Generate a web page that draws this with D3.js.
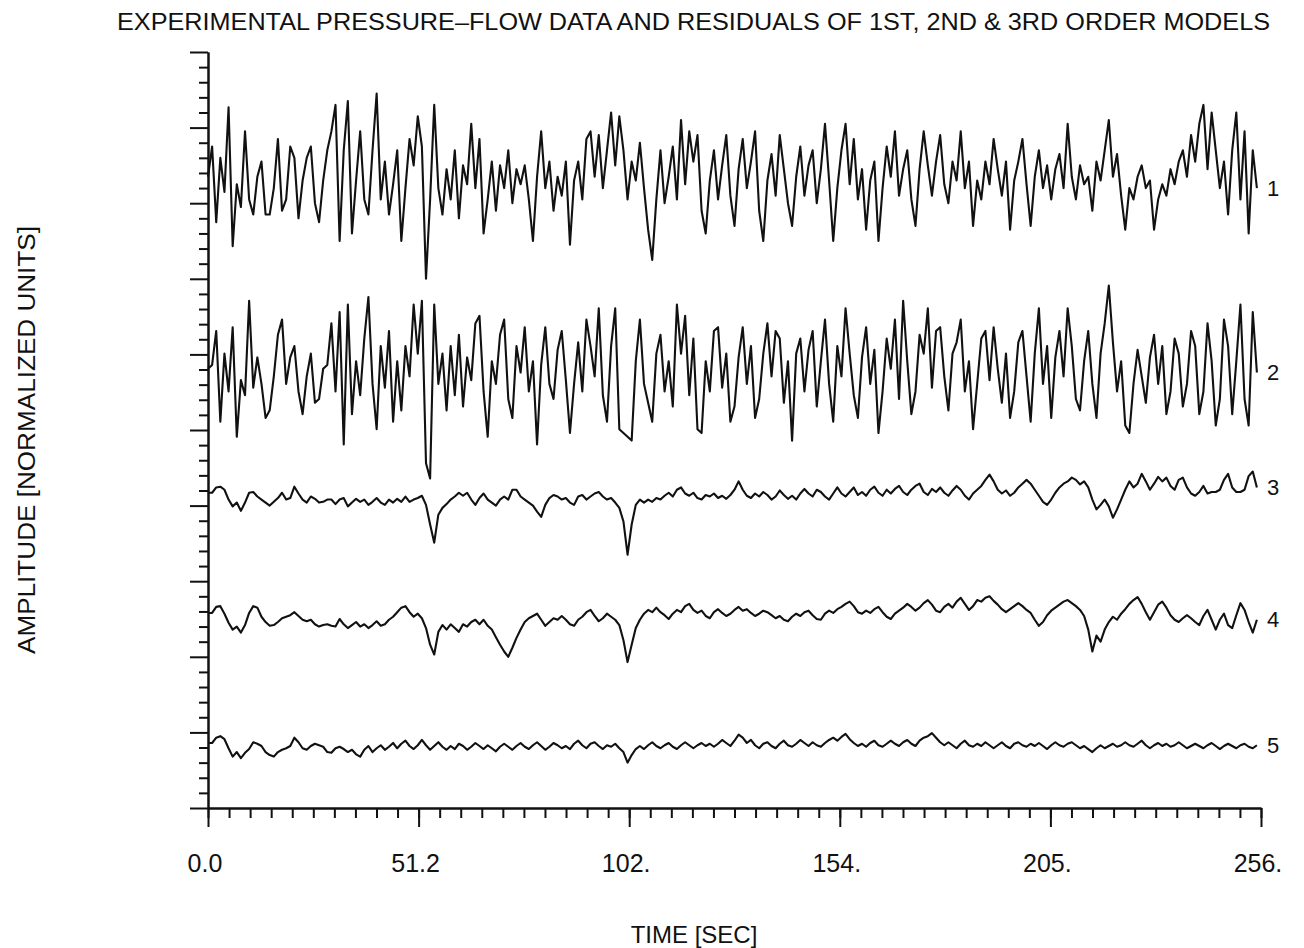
<!DOCTYPE html>
<html>
<head>
<meta charset="utf-8">
<script src="https://cdn.jsdelivr.net/npm/d3@7"></script>
<style>
  body { margin: 0; background: #fff; }
  svg { display: block; }
  text { font-family: "Liberation Sans", Arial, sans-serif; fill: #111; }
</style>
</head>
<body>
<div id="container"></div>
<script>
// Tick labels on the time axis (seconds)
var xTickValues = [0, 51.2, 102.4, 153.6, 204.8, 256];
var xTickLabels = ["0.0", "51.2", "102.", "154.", "205.", "256."];

// Trace numbers shown at the right end, and the level each trace is drawn around
var traceNames = ["1", "2", "3", "4", "5"];
var traceOffsets = [8.35, 5.81, 4.17, 2.58, 0.86];

// One sample per second, deviations from the trace level (normalized units)
var trace1 = [
  0, 0.40, -0.6, 0.25, -0.2, 0.92, -0.92, -0.1, -0.4, 0.6,
  -0.3, -0.5, 0.0, 0.2, -0.5, -0.5, -0.15, 0.5, -0.45, -0.3,
  0.4, 0.25, -0.55, -0.05, 0.25, 0.4, -0.35, -0.6, -0.05, 0.35,
  0.6, 0.95, -0.85, 0.35, 1.0, -0.75, -0.05, 0.6, -0.3, -0.5,
  0.35, 1.1, -0.3, 0.2, -0.5, -0.1, 0.35, -0.85, -0.15, 0.5,
  0.15, 0.8, 0.4, -1.35, -0.3, 0.95, -0.15, -0.5, 0.1, -0.3,
  0.35, -0.55, 0.15, -0.1, 0.7, -0.15, 0.5, -0.75, -0.3, 0.2,
  -0.45, 0.15, -0.15, 0.35, -0.35, 0.1, -0.1, 0.15, -0.3, -0.85,
  0, 0.6, -0.15, 0.2, -0.45, 0, -0.25, 0.2, -0.9, -0.05,
  0.2, -0.3, 0.5, 0.6, 0, 0.55, -0.15, 0.35, 0.85, 0.15,
  0.8, 0.35, -0.3, 0.2, -0.05, 0.45, -0.15, -0.7, -1.1, -0.3,
  0.35, -0.35, 0, 0.4, -0.3, 0.75, -0.1, 0.6, 0.2, 0.55,
  -0.45, -0.75, -0.05, 0.35, -0.3, 0.15, 0.55, -0.25, -0.65, 0.1,
  0.5, -0.15, 0.2, 0.6, -0.45, -0.85, -0.05, 0.3, -0.25, 0.55,
  0.1, -0.35, -0.65, 0, 0.4, -0.25, 0.15, 0.35, -0.35, 0.1,
  0.7, -0.05, -0.85, -0.15, 0.35, 0.7, -0.1, 0.5, -0.3, 0.1,
  -0.7, -0.05, 0.2, -0.85, -0.15, 0.4, 0, 0.6, -0.25, 0.1,
  0.35, -0.3, -0.65, 0.1, 0.6, 0.15, -0.25, 0.2, 0.55, -0.1,
  -0.35, 0.2, -0.05, 0.6, -0.15, 0.2, -0.65, -0.05, -0.3, 0.2,
  -0.1, 0.5, 0.1, -0.25, 0.2, -0.7, -0.05, 0.2, 0.5, -0.1,
  -0.65, 0, 0.35, -0.15, 0.15, -0.3, 0.1, 0.3, -0.15, 0.7,
  0, -0.3, 0.15, -0.1, 0, -0.45, 0.2, -0.05, 0.35, 0.75,
  0, 0.3, -0.25, -0.7, -0.15, -0.3, 0, 0.15, -0.15, -0.05,
  -0.7, -0.3, -0.1, -0.25, 0.1, -0.1, 0.2, 0.35, 0, 0.55,
  0.2, 0.7, 0.95, 0.1, 0.85, 0.35, -0.15, 0.2, -0.5, 0.35,
  0.85, -0.3, 0.6, -0.75, 0.35, -0.15
];

var trace2 = [
  0, 0.05, 0.5, -0.7, 0.2, -0.3, 0.55, -0.9, -0.15, -0.35,
  0.9, -0.25, 0.15, -0.2, -0.65, -0.55, -0.1, 0.45, 0.65, -0.2,
  0.15, 0.3, -0.3, -0.6, -0.1, 0.2, -0.45, -0.4, 0.0, 0.05,
  0.6, -0.3, 0.75, -1.0, 0.85, -0.6, 0.1, -0.35, 0.4, 0.95,
  -0.2, -0.8, 0.3, -0.25, 0.5, -0.7, 0.1, -0.55, 0.3, -0.1,
  0.85, 0.2, 0.9, -1.25, -1.45, 0.85, -0.2, 0.2, -0.55, 0.3,
  -0.35, 0.45, -0.5, 0.15, -0.15, 0.6, 0.7, -0.3, -0.9, 0.1,
  -0.2, 0.45, 0.65, -0.4, -0.65, 0.3, -0.05, 0.55, -0.3, 0.1,
  -1.0, 0.05, 0.55, -0.2, -0.4, 0.25, 0.5, -0.15, -0.85, -0.2,
  0.35, -0.3, 0.65, 0.3, -0.1, 0.8, -0.35, -0.7, 0.3, 0.8,
  -0.8, -0.85, -0.9, -0.95, 0.1, 0.65, -0.2, -0.45, -0.7, 0.2,
  0.45, -0.3, 0.1, -0.5, 0.85, 0.2, 0.7, -0.35, 0.4, -0.8,
  -0.85, 0.1, -0.3, 0.5, 0.55, -0.25, 0.2, -0.7, -0.5, 0.15,
  0.55, -0.2, 0.3, -0.65, -0.4, 0.2, 0.6, -0.1, 0.5, 0.4,
  -0.45, 0.1, -0.95, 0.2, 0.4, -0.3, 0.25, 0.5, -0.5, 0.1,
  0.65, -0.2, -0.7, 0.3, -0.1, 0.8, 0.2, -0.35, -0.65, 0.15,
  0.55, -0.2, 0.25, -0.85, -0.3, 0.4, 0.0, 0.65, -0.4, 0.9,
  0.1, -0.6, -0.3, 0.45, 0.2, 0.8, -0.25, 0.5, 0.55, -0.1,
  -0.55, 0.2, 0.35, 0.65, -0.3, 0.1, -0.8, -0.2, 0.4, 0.5,
  -0.15, 0.55, 0.0, -0.45, 0.2, -0.65, -0.3, 0.35, 0.5, -0.1,
  -0.7, 0.2, 0.8, -0.2, 0.3, -0.65, 0.15, 0.5, -0.1, 0.8,
  0.3, -0.4, -0.55, 0.1, 0.5, -0.2, -0.65, 0.2, 0.6, 1.1,
  0.35, -0.3, 0.1, -0.75, -0.85, -0.2, 0.25, -0.1, -0.45, 0.15,
  0.45, -0.2, 0.3, -0.6, -0.3, 0.4, 0.2, -0.5, -0.2, 0.5,
  0.3, -0.6, -0.3, 0.6, 0.1, -0.75, -0.4, 0.65, 0.3, -0.6,
  0.1, 0.85, -0.4, -0.75, 0.75, -0.05
];

var trace3 = [
  0, 0, 0.07, 0.08, 0.04, -0.09, -0.18, -0.13, -0.24, -0.13,
  0, 0.01, -0.05, -0.09, -0.13, -0.17, -0.12, -0.07, 0, -0.09,
  -0.07, 0.08, -0.01, -0.09, -0.13, -0.05, -0.08, -0.13, -0.12, -0.09,
  -0.09, -0.15, -0.09, -0.07, -0.18, -0.13, -0.08, -0.12, -0.09, -0.16,
  -0.12, -0.07, -0.13, -0.16, -0.09, -0.13, -0.08, -0.12, -0.05, -0.12,
  -0.09, -0.07, -0.04, -0.16, -0.42, -0.66, -0.29, -0.2, -0.15, -0.09,
  -0.05, 0, -0.04, 0, -0.09, -0.16, -0.07, -0.01, -0.09, -0.13,
  -0.17, -0.09, -0.05, -0.09, 0.04, 0.04, -0.05, -0.09, -0.13, -0.17,
  -0.25, -0.32, -0.16, -0.07, -0.03, -0.05, -0.09, -0.07, -0.13, -0.16,
  -0.05, -0.03, -0.09, -0.05, -0.01, 0.01, -0.05, -0.09, -0.07, -0.13,
  -0.2, -0.38, -0.82, -0.42, -0.16, -0.09, -0.13, -0.09, -0.12, -0.07,
  -0.09, -0.04, 0, -0.05, 0.04, 0.07, -0.01, -0.04, 0, -0.07,
  -0.09, -0.03, -0.05, -0.01, -0.07, -0.04, -0.08, -0.03, 0.04, 0.15,
  0.04, -0.04, -0.07, -0.01, -0.05, 0.01, -0.03, -0.09, -0.05, 0.03,
  -0.03, -0.08, -0.04, -0.09, -0.01, 0.05, -0.01, -0.05, 0.04, 0.01,
  -0.05, -0.09, -0.01, 0.07, -0.01, -0.05, 0.01, 0.07, -0.03, 0.01,
  -0.04, 0.04, 0.08, 0, -0.04, 0.04, -0.01, 0.05, 0.09, 0.01,
  -0.03, 0.04, 0.09, 0.12, 0.01, -0.03, 0.05, 0.01, 0.07, 0,
  -0.04, 0.03, 0.09, 0.04, -0.04, -0.09, -0.01, 0.04, 0.09, 0.17,
  0.24, 0.15, 0.04, -0.01, 0.03, -0.04, 0, 0.07, 0.12, 0.17,
  0.12, 0.04, -0.04, -0.12, -0.16, -0.09, 0, 0.07, 0.12, 0.15,
  0.2, 0.17, 0.11, 0.15, 0.07, -0.09, -0.22, -0.16, -0.09, -0.18,
  -0.33, -0.22, -0.09, 0.04, 0.15, 0.07, 0.12, 0.25, 0.15, 0.04,
  0.12, 0.21, 0.15, 0.2, 0.09, 0.04, 0.17, 0.2, 0.07, -0.01,
  -0.04, 0.01, 0.09, -0.01, 0.01, 0.01, 0.04, 0.17, 0.25, 0.07,
  0.01, 0.01, 0.04, 0.22, 0.28, 0.07
];

var trace4 = [
  0, 0, 0.08, 0.09, -0.01, -0.13, -0.22, -0.18, -0.26, -0.16,
  0, 0.09, 0.07, -0.05, -0.12, -0.17, -0.16, -0.12, -0.07, -0.05,
  -0.03, 0.01, -0.04, -0.09, -0.11, -0.09, -0.15, -0.18, -0.16, -0.15,
  -0.17, -0.18, -0.08, -0.15, -0.2, -0.16, -0.12, -0.18, -0.15, -0.2,
  -0.16, -0.11, -0.17, -0.15, -0.09, -0.05, 0.01, 0.07, 0.09, 0.01,
  -0.05, -0.01, -0.07, -0.2, -0.42, -0.55, -0.25, -0.16, -0.22, -0.15,
  -0.2, -0.25, -0.15, -0.18, -0.12, -0.09, -0.15, -0.09, -0.17, -0.22,
  -0.32, -0.42, -0.51, -0.58, -0.46, -0.33, -0.22, -0.12, -0.07, -0.04,
  -0.01, -0.09, -0.17, -0.12, -0.07, -0.09, -0.04, -0.09, -0.15, -0.17,
  -0.09, -0.05, 0.01, 0.04, -0.04, -0.11, -0.07, -0.01, -0.05, -0.09,
  -0.16, -0.36, -0.65, -0.42, -0.2, -0.09, -0.01, 0.04, 0.01, 0.07,
  0.01, -0.03, -0.08, -0.01, 0.04, 0.01, 0.09, 0.12, 0.04, 0,
  0.03, -0.04, -0.07, 0.01, 0.05, 0, -0.04, -0.01, 0.04, 0.08,
  0.03, 0.05, 0, -0.04, -0.01, 0.03, 0.01, -0.03, -0.07, -0.04,
  -0.09, -0.11, -0.05, -0.01, -0.04, 0.01, 0.03, -0.03, -0.08, -0.09,
  -0.01, 0.03, 0, 0.05, 0.08, 0.12, 0.15, 0.09, 0.01, -0.01,
  0.03, 0, 0.05, 0.08, 0.01, -0.05, -0.08, -0.01, 0.03, 0.07,
  0.12, 0.08, 0.03, 0.07, 0.13, 0.17, 0.11, 0.03, 0.01, 0.08,
  0.12, 0.07, 0.15, 0.2, 0.12, 0.04, 0.09, 0.17, 0.15, 0.2,
  0.22, 0.16, 0.11, 0.05, 0.01, 0.05, 0.09, 0.13, 0.09, 0.04,
  0, -0.09, -0.17, -0.12, -0.03, 0.03, 0.07, 0.11, 0.15, 0.17,
  0.13, 0.09, 0.04, -0.04, -0.22, -0.51, -0.3, -0.38, -0.22, -0.12,
  -0.05, -0.09, -0.01, 0.05, 0.12, 0.17, 0.21, 0.12, 0.01, -0.09,
  0.01, 0.11, 0.15, 0.07, -0.03, -0.09, -0.12, -0.07, -0.03, -0.07,
  -0.12, -0.16, -0.04, 0.04, -0.09, -0.22, -0.09, -0.01, -0.16, -0.2,
  -0.03, 0.13, 0.04, -0.12, -0.26, -0.09
];

var trace5 = [
  0, 0, 0.07, 0.09, 0.05, -0.07, -0.18, -0.12, -0.2, -0.13,
  -0.08, 0.01, -0.01, -0.04, -0.12, -0.16, -0.18, -0.12, -0.09, -0.07,
  -0.04, 0.07, 0.01, -0.07, -0.09, -0.04, -0.01, -0.03, -0.05, -0.12,
  -0.13, -0.07, -0.05, -0.08, -0.12, -0.09, -0.15, -0.18, -0.09, -0.04,
  -0.12, -0.07, -0.03, -0.09, -0.05, 0, -0.07, -0.01, 0.03, -0.04,
  -0.08, -0.03, 0.04, -0.03, -0.09, -0.04, 0.01, -0.05, -0.09, -0.04,
  -0.08, -0.01, -0.04, -0.09, -0.05, 0, -0.04, -0.08, -0.03, -0.07,
  -0.11, -0.05, -0.01, -0.05, -0.09, -0.04, 0, -0.05, -0.08, -0.03,
  0.01, -0.04, -0.09, -0.05, 0, -0.03, -0.07, -0.04, -0.08, -0.01,
  0.03, -0.03, -0.07, -0.01, 0.01, -0.04, -0.08, -0.03, -0.05, -0.01,
  -0.07, -0.12, -0.26, -0.16, -0.08, -0.04, -0.08, -0.03, 0.01, -0.04,
  -0.07, -0.03, 0, -0.05, -0.08, -0.03, 0.01, -0.03, -0.07, -0.03,
  0, -0.04, -0.01, -0.05, -0.01, 0.04, 0, -0.04, 0.03, 0.11,
  0.07, 0, 0.04, -0.03, -0.07, -0.01, 0.01, -0.04, -0.07, -0.01,
  0.03, -0.03, -0.05, -0.01, 0.04, 0, -0.04, 0.01, -0.03, -0.05,
  0, 0.04, 0.07, 0.03, 0.08, 0.12, 0.05, 0, -0.04, -0.01,
  -0.05, 0, 0.03, -0.03, -0.05, -0.01, 0.03, -0.01, -0.04, 0.01,
  0.04, -0.01, -0.04, 0.03, 0.07, 0.09, 0.13, 0.07, 0.01, -0.03,
  0.01, -0.03, -0.07, -0.01, 0.03, -0.03, -0.05, -0.01, -0.04, 0.01,
  -0.03, -0.07, -0.03, 0.01, -0.04, -0.07, -0.01, 0.01, -0.03, -0.05,
  -0.01, -0.04, 0, -0.04, -0.08, -0.03, 0.01, -0.03, -0.05, -0.01,
  0.01, -0.03, -0.07, -0.04, -0.08, -0.12, -0.07, -0.03, -0.07, -0.04,
  -0.01, -0.05, -0.03, 0.01, -0.03, -0.05, -0.01, 0.03, -0.03, -0.07,
  -0.03, 0, -0.04, -0.01, -0.05, -0.03, 0.01, -0.03, -0.07, -0.04,
  -0.01, -0.04, -0.07, -0.03, 0, -0.04, -0.08, -0.04, -0.01, -0.04,
  -0.07, -0.03, -0.01, -0.05, -0.07, -0.03
];

var allTraces = [trace1, trace2, trace3, trace4, trace5];
var sampleStep = 1.0; // seconds between samples

drawChart();

function drawChart() {
    var width = 1304, height = 948;

    var svg = d3.select("div#container")
      .append("svg")
      .attr("width", width)
      .attr("height", height);

    // Scales: time along x, normalized amplitude along y
    var x = d3.scaleLinear()
      .domain([0, 256])
      .range([208, 1261]);

    var y = d3.scaleLinear()
      .domain([0, 10])
      .range([808, 52]);

    // Y axis: long ticks every unit, short ticks every 0.2
    var yMajor = d3.range(0, 11, 1);
    var yMinor = d3.range(0, 50).map(function(i) { return i * 0.2; })
      .filter(function(v) { return Math.abs(v - Math.round(v)) > 0.01; });

    svg.append("g")
      .attr("class", "axis")
      .attr("transform", "translate(" + x(0) + ",0)")
      .call(d3.axisLeft(y).tickValues(yMinor).tickSize(9).tickSizeOuter(0).tickFormat(""));

    svg.append("g")
      .attr("class", "axis")
      .attr("transform", "translate(" + x(0) + ",0)")
      .call(d3.axisLeft(y).tickValues(yMajor).tickSize(18).tickSizeOuter(0).tickFormat(""));

    // X axis: short ticks every 5.12 s, long ticks at the labels
    var xMinor = d3.range(0, 51).map(function(i) { return i * 5.12; });

    svg.append("g")
      .attr("class", "axis")
      .attr("transform", "translate(0," + y(0) + ")")
      .call(d3.axisBottom(x).tickValues(xMinor).tickSize(10).tickSizeOuter(0).tickFormat(""));

    svg.append("g")
      .attr("class", "axis")
      .attr("transform", "translate(0," + y(0) + ")")
      .call(d3.axisBottom(x).tickValues(xTickValues).tickSize(19).tickSizeOuter(0).tickFormat(""));

    svg.selectAll(".axis path, .axis line")
      .attr("stroke", "#111")
      .attr("stroke-width", 2);

    // tick labels under the time axis
    svg.selectAll(".xlabel")
      .data(xTickValues)
      .enter()
      .append("text")
      .attr("class", "xlabel")
      .attr("x", function(d) { return x(d) - 3; })
      .attr("y", 872)
      .attr("text-anchor", "middle")
      .style("font-size", "25px")
      .text(function(d, i) { return xTickLabels[i]; });

    // the five traces
    var line = d3.line()
      .x(function(d) { return x(d.t); })
      .y(function(d) { return y(d.v); });

    var traceData = allTraces.map(function(arr, k) {
        return arr.map(function(v, i) {
            return {t: i * sampleStep, v: traceOffsets[k] + v};
        });
    });

    svg.selectAll(".trace")
      .data(traceData)
      .enter()
      .append("path")
      .attr("class", "trace")
      .attr("fill", "none")
      .attr("stroke", "#111")
      .attr("stroke-width", 2.1)
      .attr("stroke-linejoin", "round")
      .attr("d", line);

    // trace numbers at the right end
    svg.selectAll(".tracename")
      .data(traceData)
      .enter()
      .append("text")
      .attr("class", "tracename")
      .attr("x", x(256) + 6)
      .attr("y", function(d) { return y(d[d.length - 1].v); })
      .attr("dy", "0.35em")
      .style("font-size", "22px")
      .text(function(d, i) { return traceNames[i]; });

    // titles
    svg.append("text")
      .attr("x", 117)
      .attr("y", 30)
      .attr("textLength", 1153)
      .attr("lengthAdjust", "spacingAndGlyphs")
      .style("font-size", "24px")
      .text("EXPERIMENTAL PRESSURE\u2013FLOW DATA AND RESIDUALS OF 1ST, 2ND & 3RD ORDER MODELS");

    svg.append("text")
      .attr("transform", "translate(35,440) rotate(-90)")
      .attr("text-anchor", "middle")
      .attr("textLength", 428)
      .attr("lengthAdjust", "spacingAndGlyphs")
      .style("font-size", "23px")
      .text("AMPLITUDE [NORMALIZED UNITS]");

    svg.append("text")
      .attr("x", 694)
      .attr("y", 943)
      .attr("text-anchor", "middle")
      .style("font-size", "24px")
      .text("TIME [SEC]");
}
</script>
</body>
</html>
